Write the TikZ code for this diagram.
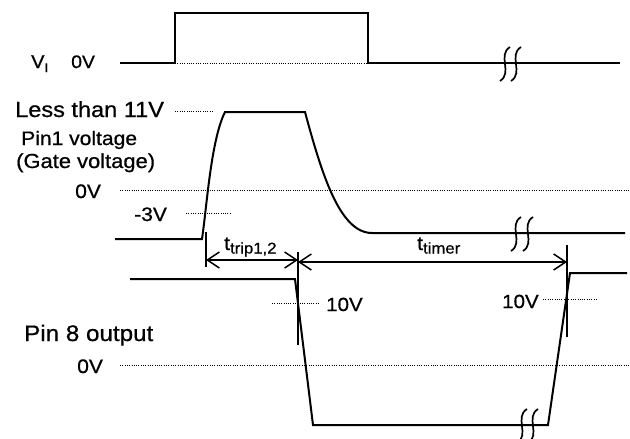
\documentclass[tikz,border=0pt]{standalone}
\usepackage{fontspec}
\setmainfont{Liberation Sans}[FakeStretch=1.08,FakeBold=0.7]
\usetikzlibrary{arrows.meta}
\begin{document}
\begin{tikzpicture}[x=1pt,y=-1pt,
 wave/.style={line width=2pt, line join=miter},
 guide/.style={line width=1pt, dash pattern=on 1pt off 1.3pt},
 ext/.style={line width=1.7pt},
 dimline/.style={line width=1.5pt, {Straight Barb[length=12pt,width=16pt,line width=1.5pt]}-{Straight Barb[length=12pt,width=16pt,line width=1.5pt]}},
 brk/.style={line width=1.7pt},
 lbl/.style={inner sep=0pt, anchor=base west},
 brkpic/.pic={\draw[brk] (5,-17) .. controls (-8,-9) and (8,9) .. (-5,17);},
]
\useasboundingbox (0,0) rectangle (630,439);

% ---------- V_I ----------
\coordinate (a0) at (120,63);
\coordinate (a1) at (175,63);
\coordinate (a2) at (175,13);
\coordinate (a3) at (368,13);
\coordinate (a4) at (368,63);
\coordinate (a5) at (620,63);
\draw[guide] (a1) -- (a4);
\draw[wave] (a0) -- (a1) -- (a2) -- (a3) -- (a4) -- (a5);
\pic at (505,64) {brkpic};
\pic at (516,64) {brkpic};
\node[lbl, font=\fontsize{18.5}{18.5}\selectfont] (vi) at (31,68) {V\raisebox{-4pt}{\fontsize{12.5}{12.5}\selectfont I}};
\node[lbl, font=\fontsize{18}{18}\selectfont] (vz) at (71,68) {0V};

% ---------- Pin1 ----------
\coordinate (b0) at (115,239);
\coordinate (b1) at (202,239);
\coordinate (b2) at (225,112);
\coordinate (b3) at (305,112);
\coordinate (b4) at (372,233);
\coordinate (b5) at (625,233);
\draw[wave] (b0) -- (b1) .. controls (207,205) and (211,140) .. (b2) -- (b3)
  .. controls (322,175) and (340,233) .. (b4) -- (b5);
\pic at (516,234) {brkpic};
\pic at (528,234) {brkpic};

\draw[guide] (175,111) -- (212,111);
\draw[guide] (120,190) -- (630,190);
\draw[guide] (186,213) -- (230,213);

\node[lbl, font=\fontsize{21.8}{21.8}\selectfont] (l11) at (15,117) {Less than 11V};
\node[lbl, font=\fontsize{19.5}{19.5}\selectfont] (lp1) at (21,145) {Pin1 voltage};
\node[lbl, font=\fontsize{20.3}{20.3}\selectfont] (lg) at (16,168) {(Gate voltage)};
\node[lbl, font=\fontsize{19.5}{19.5}\selectfont] (l0a) at (75,198) {0V};
\node[lbl, font=\fontsize{19.5}{19.5}\selectfont] (l3) at (134,221) {-3V};

% ---------- extension lines & dimensions ----------
\coordinate (e1t) at (206,232);
\coordinate (e1b) at (206,267);
\coordinate (e2t) at (298,252);
\coordinate (e2b) at (298,345);
\coordinate (e3t) at (567,245);
\coordinate (e3b) at (567,337);
\draw[ext] (e1t) -- (e1b);
\draw[ext] (e2t) -- (e2b);
\draw[ext] (e3t) -- (e3b);
\draw[dimline] (206,260) -- (298,260);
\draw[dimline] (298,262) -- (567,262);
\node[lbl, font=\fontsize{19.5}{19.5}\selectfont] (tt) at (224,250) {t\raisebox{-3.5pt}{\fontsize{15.5}{15.5}\selectfont trip1,2}};
\node[lbl, font=\fontsize{19.5}{19.5}\selectfont] (tm) at (417,250) {t\raisebox{-3.5pt}{\fontsize{15.5}{15.5}\selectfont timer}};

% ---------- Pin 8 ----------
\coordinate (c0) at (130,279);
\coordinate (c1) at (295,279);
\coordinate (c2) at (313,425);
\coordinate (c3) at (548,425);
\coordinate (c4) at (570,273);
\coordinate (c5) at (627,273);
\draw[wave] (c0) -- (c1) -- (c2) -- (c3) -- (c4) -- (c5);
\pic at (522,426) {brkpic};
\pic at (533,426) {brkpic};

\draw[guide] (272,303) -- (320,303);
\draw[guide] (543,299) -- (598,299);
\draw[guide] (120,365) -- (630,365);
\node[lbl, font=\fontsize{19}{19}\selectfont] (t10a) at (326,311) {10V};
\node[lbl, font=\fontsize{19}{19}\selectfont] (t10b) at (502,308) {10V};
\node[lbl, font=\fontsize{22.4}{22.4}\selectfont] (lp8) at (24,341) {Pin 8 output};
\node[lbl, font=\fontsize{19.5}{19.5}\selectfont] (l0b) at (77,373) {0V};
\end{tikzpicture}
\end{document}
